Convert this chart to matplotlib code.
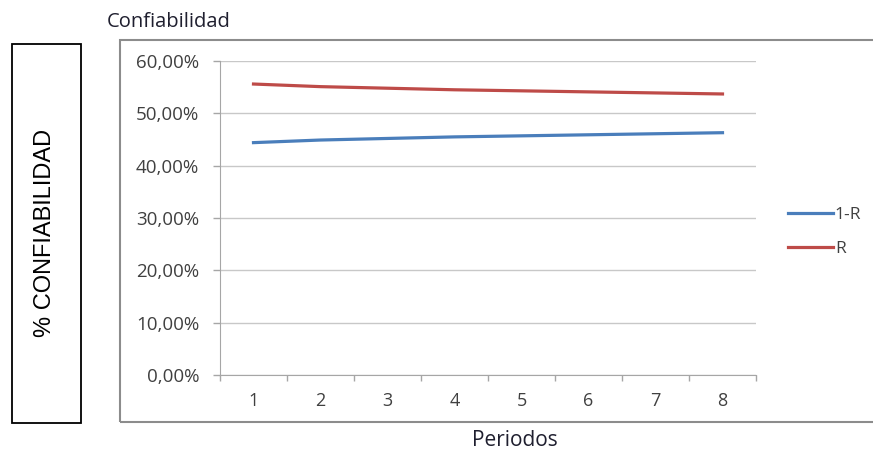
import matplotlib
matplotlib.use("Agg")
import matplotlib.pyplot as plt
from matplotlib.patches import Rectangle
from matplotlib.ticker import FuncFormatter, FixedLocator

periodos = [1, 2, 3, 4, 5, 6, 7, 8]
uno_menos_r = [0.444, 0.449, 0.452, 0.455, 0.457, 0.459, 0.461, 0.463]
r_vals = [0.556, 0.551, 0.548, 0.545, 0.543, 0.541, 0.539, 0.537]

W, H = 873, 450
fig = plt.figure(figsize=(W / 100, H / 100), dpi=100)
fig.patch.set_facecolor("white")

def fx(px):
    return px / W

def fy(py):
    return 1 - py / H

# outer chart frame (Excel chart area) and the separate label box
fig.patches.append(Rectangle((fx(120), fy(422)), fx(760), fy(40) - fy(422),
                             transform=fig.transFigure, fill=False,
                             edgecolor="#8c8c8c", linewidth=1.5))
fig.patches.append(Rectangle((fx(12), fy(423)), fx(81) - fx(12), fy(44) - fy(423),
                             transform=fig.transFigure, fill=False,
                             edgecolor="black", linewidth=1.3))
fig.text(fx(45), fy(233), "% CONFIABILIDAD", rotation=90, ha="center", va="center",
         fontsize=17, family="Liberation Sans", color="black")

ax = fig.add_axes([fx(220), fy(375), fx(756) - fx(220), fy(61) - fy(375)])
ax.plot(periodos, uno_menos_r, color="#4a7ebb", linewidth=2.3, label="1-R")
ax.plot(periodos, r_vals, color="#be4b48", linewidth=2.3, label="R")

ax.set_xlim(0.5, 8.5)
ax.set_ylim(0, 0.6)
ax.set_yticks([i / 10 for i in range(7)])
ax.yaxis.set_major_formatter(FuncFormatter(lambda v, p: f"{v * 100:.2f}%".replace(".", ",")))
ax.xaxis.set_major_locator(FixedLocator([p - 0.5 for p in periodos] + [8.5]))
ax.xaxis.set_minor_locator(FixedLocator(periodos))
ax.set_xticklabels([])
ax.set_xticklabels([str(p) for p in periodos], minor=True)
ax.tick_params(axis="x", which="major", length=4, color="#a6a6a6", width=1)
ax.tick_params(axis="x", which="minor", length=0, pad=12, labelsize=13,
               labelcolor="#404040")
ax.tick_params(axis="y", length=5, color="#a6a6a6", width=1, pad=10,
               labelsize=13.5, labelcolor="#404040")
for lab in ax.get_xticklabels(minor=True) + ax.get_yticklabels():
    lab.set_family("Open Sans")
ax.grid(axis="y", color="#c8c8c8", linewidth=1)
ax.set_axisbelow(True)
for side in ("top", "right"):
    ax.spines[side].set_visible(False)
ax.spines["left"].set_color("#a6a6a6")
ax.spines["bottom"].set_color("#a6a6a6")

ax.legend(loc="center left", bbox_to_anchor=(fx(781), fy(232)),
          bbox_transform=fig.transFigure, frameon=False, borderaxespad=0,
          handlelength=2.6, handletextpad=0.1, labelspacing=1.05,
          prop={"family": "Open Sans", "size": 12.5}, labelcolor="#404040")

fig.text(fx(107), fy(22), "Confiabilidad", ha="left", va="center", fontsize=14.5,
         family="Open Sans", color="#1f1f2f")
fig.text(fx(515), fy(441), "Periodos", ha="center", va="center", fontsize=15,
         family="Open Sans", color="#1f1f2f")

fig.savefig("out.png", dpi=100)
